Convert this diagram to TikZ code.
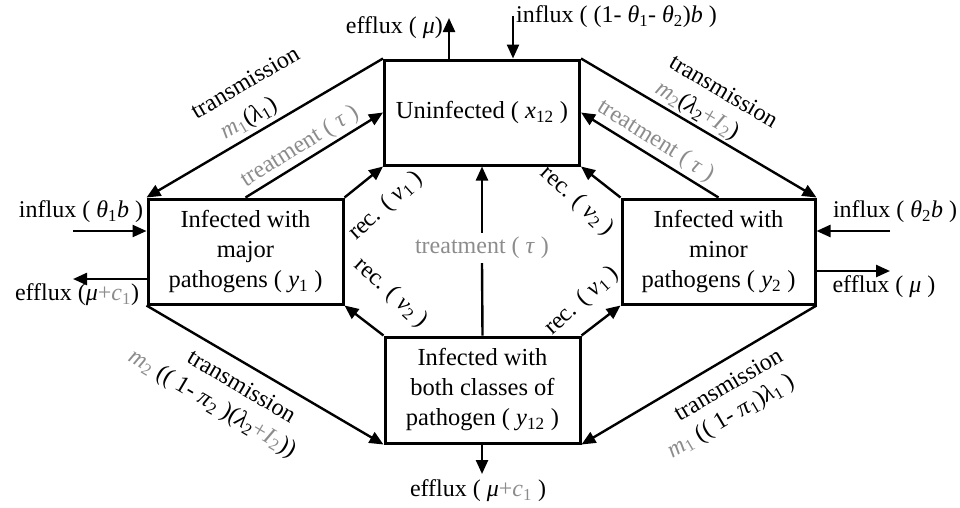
\documentclass[tikz,border=0pt]{standalone}
\usepackage{fontspec}
\setmainfont{Liberation Serif}
\usetikzlibrary{arrows.meta}
\definecolor{lg}{gray}{0.55}
\newcommand{\gr}[1]{\textcolor{lg}{#1}}
\newcommand{\iv}[1]{\textit{#1}}
\newcommand{\sbs}[1]{\textsubscript{#1}}
\begin{document}
\begin{tikzpicture}[x=1pt,y=-1pt,
  box/.style={draw, line width=3pt, minimum width=195pt, minimum height=105pt, align=center, inner sep=0pt, font=\fontsize{24.5}{30}\selectfont},
  con/.style={line width=2.4pt, -{Triangle[length=14pt,width=12pt]}},
  lab/.style={font=\fontsize{24}{28}\selectfont, inner sep=0pt},
  glab/.style={lab, text=lg},
]
\useasboundingbox (0,0) rectangle (960,507);
% boxes
\node[box] (top) at (482,112.5) {Uninfected ( \iv{x}\sbs{12} )};
\node[box] (left) at (245.5,251.5) {Infected with\\major\\pathogens ( \iv{y}\sbs{1} )};
\node[box, minimum width=193pt] (right) at (718.5,251.5) {Infected with\\minor\\pathogens ( \iv{y}\sbs{2} )};
\node[box, minimum height=106pt] (bot) at (482.5,390) {Infected with\\both classes of\\pathogen ( \iv{y}\sbs{12} )};
% transmission lines
\draw[con] (top.north west) -- (left.north west);
\draw[con] (top.north east) -- (right.north east);
\draw[con] (left.south west) -- (bot.south west);
\draw[con] (right.south east) -- (bot.south east);
% treatment
\draw[con] (left.north) -- (top.west);
\draw[con] (right.north) -- (top.east);
\node[glab, inner sep=4pt] (tc) at (482,248) {treatment ( \iv{τ} )};
\draw[line width=2.4pt] (bot.north) -- (tc.south);
\draw[con] (tc.north) -- (top.south);
% recovery
\draw[con] (left.north east) -- (top.south west);
\draw[con] (bot.north west) -- (left.south east);
\draw[con] (right.north west) -- (top.south east);
\draw[con] (bot.north east) -- (right.south west);
% in/out flows
\coordinate (eT) at (449,18);
\coordinate (iT) at (513,16);
\coordinate (iL) at (73,231);
\coordinate (eL) at (73,279);
\coordinate (iR) at (890,231);
\coordinate (eR) at (890,271);
\coordinate (eB) at (482,474);
\draw[con] (top.north -| eT) -- (eT);
\draw[con] (iT) -- (top.north -| iT);
\draw[con] (iL) -- (left.west |- iL);
\draw[con] (left.west |- eL) -- (eL);
\draw[con] (iR) -- (right.east |- iR);
\draw[con] (right.east |- eR) -- (eR);
\draw[con] (bot.south -| eB) -- (eB);
% flow labels
\node[lab, anchor=east] (teff) at (443,28) {efflux ( \iv{μ})};
\node[lab, anchor=west] (tinf) at (516,17) {influx ( (1- \iv{θ}\sbs{1}- \iv{θ}\sbs{2})\iv{b} )};
\node[lab] (linf) at (81,212) {influx ( \iv{θ}\sbs{1}\iv{b} )};
\node[lab] (leff) at (77,295) {efflux (\iv{μ}\gr{+\iv{c}\sbs{1}})};
\node[lab] (rinf) at (895,212) {influx ( \iv{θ}\sbs{2}\iv{b} )};
\node[lab] (reff) at (884,287) {efflux ( \iv{μ} )};
\node[lab] (beff) at (478,491) {efflux ( \iv{μ}\gr{+\iv{c}\sbs{1}} )};
% transmission labels
\node[lab, rotate=30.5] (tl1) at (245,82) {transmission};
\node[lab, rotate=30.5] (tl2) at (249,119) {\gr{\iv{m}\sbs{1}}(\iv{λ}\sbs{1})};
\node[lab, rotate=-30.5] (tr1) at (724,91) {transmission};
\node[lab, rotate=-30.5] (tr2) at (697,111) {\gr{\iv{m}\sbs{2}}(\iv{λ}\sbs{2}\gr{+\iv{I}\sbs{2}})};
\node[lab, rotate=-30.5] (bl1) at (242,386) {transmission};
\node[lab, rotate=-30.5] (bl2) at (212,404) {\gr{\iv{m}\sbs{2}} (( 1- \iv{π}\sbs{2} )(\iv{λ}\sbs{2}\gr{+\iv{I}\sbs{2}}))};
\node[lab, rotate=30.5] (br1) at (728,384) {transmission};
\node[lab, rotate=30.5] (br2) at (731,417) {\gr{\iv{m}\sbs{1}} (( 1- \iv{π}\sbs{1})\iv{λ}\sbs{1} )};
% treatment labels
\node[glab, rotate=32] (trl) at (300,147) {treatment ( \iv{τ} )};
\node[glab, rotate=-32] (trr) at (656,141) {treatment ( \iv{τ} )};
% recovery labels
\node[lab, rotate=42] (r1) at (386,206) {rec. ( \iv{ν}\sbs{1} )};
\node[lab, rotate=-42] (r2) at (391,293) {rec. ( \iv{ν}\sbs{2} )};
\node[lab, rotate=-42] (r3) at (577,201) {rec. ( \iv{ν}\sbs{2} )};
\node[lab, rotate=42] (r4) at (582,301) {rec. ( \iv{ν}\sbs{1} )};
\end{tikzpicture}
\end{document}
